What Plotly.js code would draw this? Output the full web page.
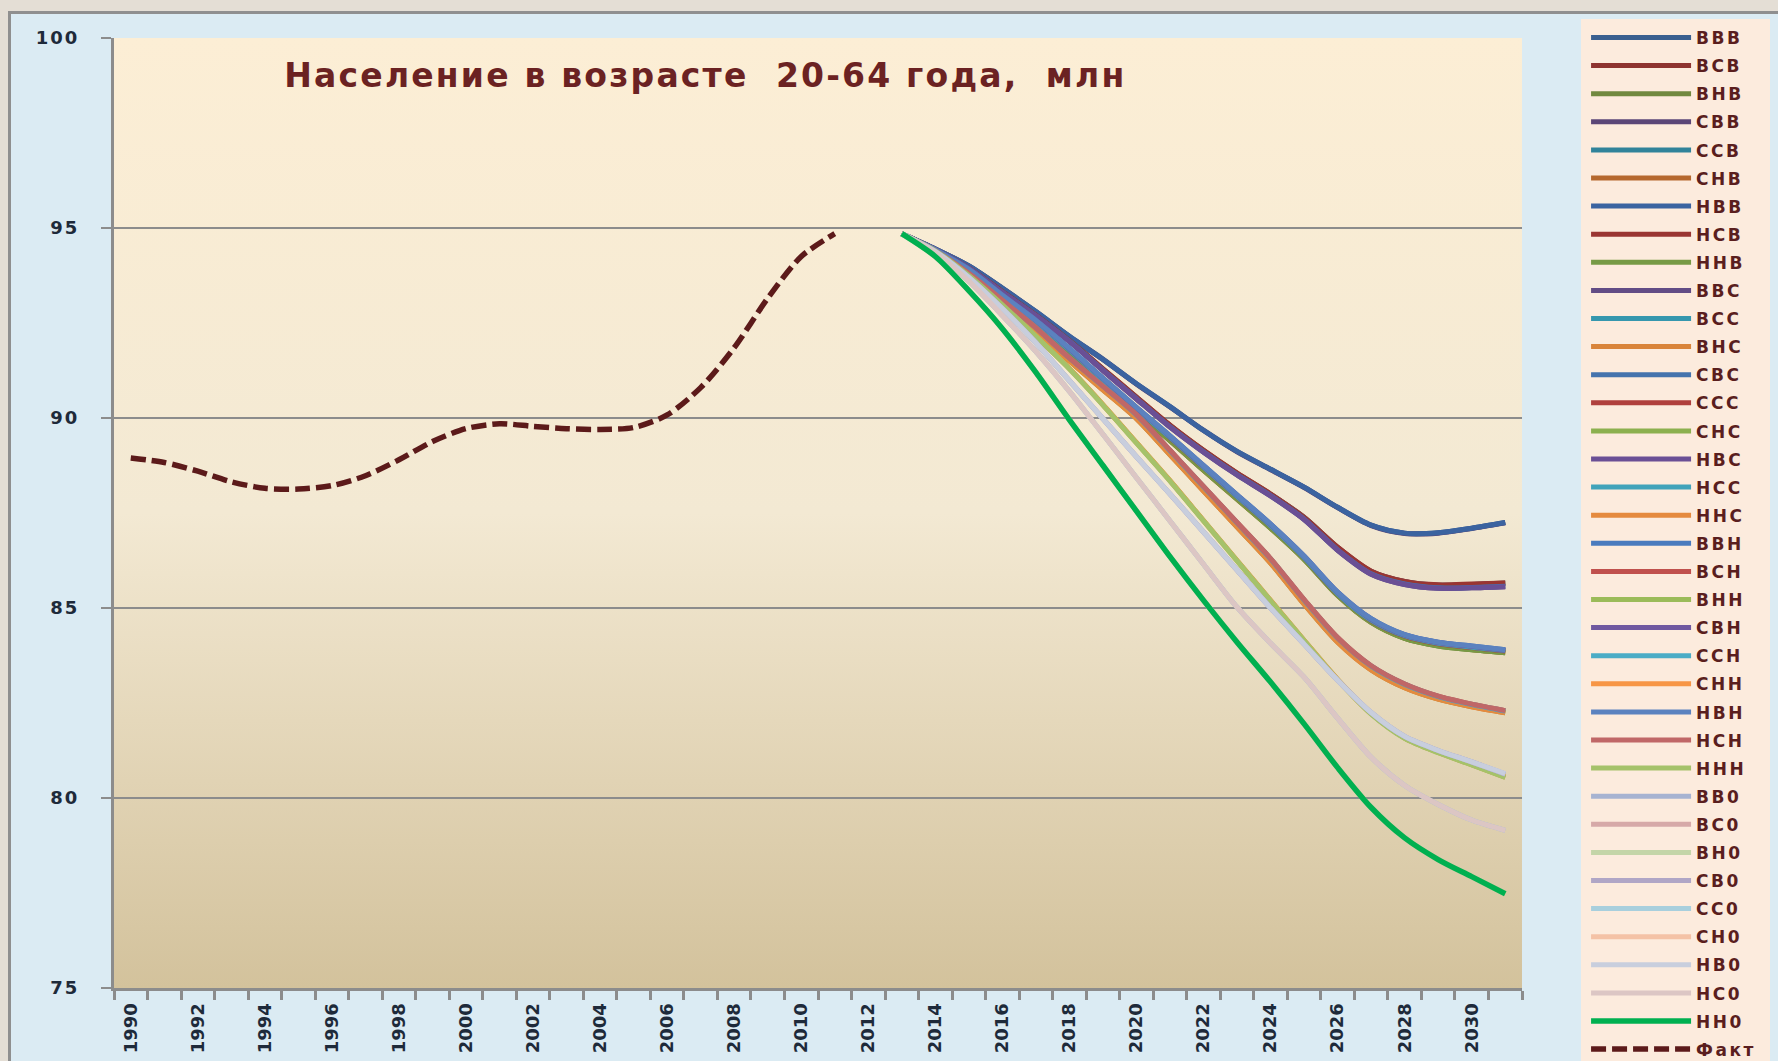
<!DOCTYPE html>
<html><head><meta charset="utf-8">
<script src="https://cdn.plot.ly/plotly-3.0.1.min.js"></script>
<style>
html,body{margin:0;padding:0;background:#E4DED5;width:1778px;height:1061px;overflow:hidden}
#frame{position:absolute;left:8px;top:11px;width:1775px;height:1055px;background:#DBEBF3;border-left:3px solid #8F8F8F;border-top:3px solid #8F8F8F}
#legbg{position:absolute;left:1581px;top:19px;width:189px;height:1050px;background:#FCEBDD}
#chart{position:absolute;left:0;top:0;width:1778px;height:1061px}
#chart .legendtext{letter-spacing:2.5px}
#chart .legend .scrollbox{clip-path:none !important}
#chart .gtitle{letter-spacing:2.2px}
#chart .ytick text{letter-spacing:2px}
</style></head><body>
<div id="frame"></div><div id="legbg"></div><div id="chart"></div>
<script>
// ---- data ----
const factYears = [1990,1991,1992,1993,1994,1995,1996,1997,1998,1999,2000,2001,2002,2003,2004,2005,2006,2007,2008,2009,2010,2011];
const fact = [88.95,88.83,88.6,88.32,88.15,88.13,88.22,88.48,88.9,89.38,89.72,89.85,89.78,89.72,89.7,89.75,90.08,90.8,91.85,93.15,94.25,94.85];
const forecastYears = [2013,2014,2015,2016,2017,2018,2019,2020,2021,2022,2023,2024,2025,2026,2027,2028,2029,2030,2031];
const tickYears = [1990,1992,1994,1996,1998,2000,2002,2004,2006,2008,2010,2012,2014,2016,2018,2020,2022,2024,2026,2028,2030];
const yTicks = [75,80,85,90,95,100];

const s_BBB = [94.85,94.45,94.0,93.42,92.8,92.15,91.55,90.9,90.3,89.68,89.12,88.65,88.18,87.65,87.18,86.97,86.98,87.1,87.25];
const s_BCB = [94.85,94.43,93.95,93.33,92.71,92.04,91.29,90.55,89.81,89.15,88.55,88.0,87.39,86.6,85.97,85.7,85.6,85.62,85.66];
const s_BHB = [94.85,94.41,93.87,93.17,92.48,91.72,90.93,90.15,89.4,88.62,87.86,87.1,86.28,85.33,84.62,84.2,84.0,83.9,83.82];
const s_CBB = [94.85,94.45,94.0,93.41,92.79,92.14,91.54,90.89,90.29,89.67,89.11,88.64,88.17,87.64,87.17,86.96,86.97,87.09,87.24];
const s_CCB = [94.85,94.43,93.95,93.33,92.71,92.04,91.28,90.54,89.8,89.14,88.54,87.99,87.38,86.59,85.96,85.69,85.6,85.62,85.65];
const s_CHB = [94.85,94.41,93.87,93.17,92.48,91.72,90.94,90.16,89.41,88.63,87.87,87.11,86.29,85.34,84.63,84.21,84.01,83.91,83.83];
const s_HBB = [94.85,94.45,94.0,93.41,92.8,92.15,91.54,90.9,90.3,89.67,89.12,88.65,88.18,87.65,87.18,86.97,86.98,87.1,87.25];
const s_HCB = [94.85,94.43,93.95,93.33,92.71,92.04,91.29,90.55,89.81,89.15,88.55,88.0,87.38,86.6,85.97,85.7,85.61,85.63,85.66];
const s_HHB = [94.85,94.41,93.88,93.18,92.49,91.73,90.94,90.16,89.41,88.63,87.87,87.1,86.28,85.33,84.62,84.2,84.0,83.9,83.82];
const s_BBC = [94.85,94.43,93.94,93.31,92.69,92.02,91.25,90.5,89.76,89.1,88.5,87.95,87.33,86.52,85.89,85.62,85.52,85.53,85.56];
const s_BCC = [94.85,94.42,93.9,93.21,92.54,91.79,91.01,90.24,89.49,88.71,87.94,87.17,86.33,85.38,84.68,84.27,84.07,83.97,83.88];
const s_BHC = [94.85,94.39,93.78,93.05,92.31,91.5,90.74,89.98,89.03,88.08,87.13,86.18,85.1,84.1,83.37,82.9,82.6,82.4,82.24];
const s_CBC = [94.85,94.43,93.94,93.31,92.69,92.02,91.26,90.51,89.77,89.11,88.51,87.96,87.34,86.53,85.9,85.63,85.53,85.54,85.57];
const s_CCC = [94.85,94.42,93.9,93.21,92.54,91.79,91.0,90.23,89.48,88.7,87.93,87.16,86.32,85.37,84.67,84.26,84.06,83.96,83.87];
const s_CHC = [94.85,94.39,93.78,93.05,92.31,91.5,90.75,89.99,89.04,88.09,87.14,86.19,85.11,84.11,83.38,82.91,82.61,82.41,82.25];
const s_HBC = [94.85,94.43,93.94,93.31,92.69,92.01,91.25,90.5,89.76,89.1,88.5,87.95,87.33,86.52,85.89,85.62,85.52,85.53,85.56];
const s_HCC = [94.85,94.42,93.9,93.21,92.54,91.79,91.01,90.24,89.49,88.71,87.94,87.17,86.33,85.38,84.68,84.27,84.07,83.97,83.88];
const s_HHC = [94.85,94.39,93.78,93.05,92.31,91.5,90.74,89.98,89.03,88.08,87.13,86.18,85.1,84.1,83.37,82.9,82.6,82.4,82.24];
const s_BBH = [94.85,94.42,93.91,93.23,92.57,91.83,91.05,90.28,89.53,88.75,87.98,87.21,86.37,85.42,84.72,84.3,84.1,84.0,83.9];
const s_BCH = [94.85,94.4,93.81,93.1,92.38,91.58,90.84,90.09,89.15,88.2,87.25,86.3,85.22,84.22,83.48,83.0,82.68,82.47,82.3];
const s_BHH = [94.85,94.4,93.75,92.98,92.15,91.3,90.35,89.35,88.35,87.3,86.25,85.2,84.15,83.12,82.22,81.58,81.2,80.88,80.55];
const s_CBH = [94.85,94.42,93.91,93.23,92.57,91.82,91.04,90.27,89.52,88.74,87.97,87.2,86.36,85.41,84.71,84.29,84.09,83.99,83.89];
const s_CCH = [94.85,94.4,93.81,93.1,92.38,91.58,90.84,90.08,89.14,88.19,87.24,86.29,85.21,84.21,83.47,82.99,82.67,82.46,82.29];
const s_CHH = [94.85,94.4,93.75,92.98,92.15,91.3,90.35,89.35,88.35,87.3,86.25,85.2,84.15,83.12,82.22,81.58,81.2,80.88,80.55];
const s_HBH = [94.85,94.42,93.91,93.23,92.57,91.83,91.05,90.28,89.53,88.75,87.98,87.21,86.37,85.42,84.72,84.3,84.1,84.0,83.9];
const s_HCH = [94.85,94.4,93.81,93.1,92.38,91.58,90.84,90.09,89.15,88.2,87.25,86.3,85.22,84.22,83.48,83.0,82.68,82.47,82.3];
const s_HHH = [94.85,94.4,93.75,92.98,92.15,91.29,90.34,89.34,88.34,87.29,86.24,85.19,84.14,83.11,82.21,81.57,81.19,80.87,80.54];
const s_BB0 = [94.85,94.38,93.7,92.88,91.98,90.98,89.98,88.98,88.0,87.0,86.0,85.0,84.05,83.1,82.25,81.62,81.25,80.95,80.63];
const s_BC0 = [94.85,94.35,93.6,92.7,91.75,90.7,89.57,88.43,87.29,86.15,85.02,84.07,83.18,82.1,81.07,80.33,79.83,79.42,79.15];
const s_BH0 = [94.85,94.25,93.35,92.35,91.2,89.95,88.75,87.55,86.35,85.2,84.1,83.05,81.95,80.8,79.75,78.95,78.38,77.93,77.48];
const s_CB0 = [94.85,94.38,93.7,92.88,91.98,90.98,89.98,88.98,88.0,87.0,86.0,85.0,84.05,83.1,82.25,81.62,81.25,80.95,80.63];
const s_CC0 = [94.85,94.35,93.6,92.7,91.75,90.7,89.57,88.43,87.29,86.15,85.02,84.07,83.18,82.1,81.07,80.33,79.83,79.42,79.15];
const s_CH0 = [94.85,94.25,93.35,92.35,91.2,89.95,88.75,87.55,86.35,85.2,84.1,83.05,81.95,80.8,79.75,78.95,78.38,77.93,77.48];
const s_HB0 = [94.85,94.38,93.7,92.88,91.98,90.98,89.98,88.98,88.0,87.0,86.0,85.0,84.05,83.1,82.25,81.62,81.25,80.95,80.64];
const s_HC0 = [94.85,94.35,93.6,92.7,91.75,90.7,89.57,88.43,87.29,86.15,85.02,84.07,83.18,82.1,81.07,80.33,79.83,79.42,79.15];
const s_HH0 = [94.85,94.25,93.35,92.35,91.2,89.95,88.75,87.55,86.35,85.2,84.1,83.05,81.95,80.8,79.75,78.95,78.38,77.93,77.48];

const seriesNames = ['ВВВ','ВСВ','ВНВ','СВВ','ССВ','СНВ','НВВ','НСВ','ННВ',
  'ВВС','ВСС','ВНС','СВС','ССС','СНС','НВС','НСС','ННС',
  'ВВН','ВСН','ВНН','СВН','ССН','СНН','НВН','НСН','ННН',
  'ВВ0','ВС0','ВН0','СВ0','СС0','СН0','НВ0','НС0','НН0'];
const seriesValues = [s_BBB,s_BCB,s_BHB,s_CBB,s_CCB,s_CHB,s_HBB,s_HCB,s_HHB,
  s_BBC,s_BCC,s_BHC,s_CBC,s_CCC,s_CHC,s_HBC,s_HCC,s_HHC,
  s_BBH,s_BCH,s_BHH,s_CBH,s_CCH,s_CHH,s_HBH,s_HCH,s_HHH,
  s_BB0,s_BC0,s_BH0,s_CB0,s_CC0,s_CH0,s_HB0,s_HC0,s_HH0];
const seriesColors = ['#3A5F8F','#8E3330','#71893F','#5B4677','#31839A','#B5682E','#3B63A0','#9A3532','#779A45',
  '#624C85','#3597AE','#D9843A','#4573AD','#B0403D','#8CB04F','#6A4F95','#41A3BA','#E58A3E',
  '#4A7BBE','#C0504D','#9BBB59','#7058A0','#4BACC6','#F79646','#5B82BF','#C06767','#A5C26A',
  '#A7B3D1','#D6A9A8','#C4D5A8','#B0A6C6','#A8CFDD','#F4C2A6','#C8CEDD','#DCC6C4','#00B050'];
const factName = 'Факт';
const titleText = 'Население в возрасте\u00a0 20-64 года,\u00a0 млн';

// ---- traces ----
const traces = seriesNames.map((n, i) => ({
  type: 'scatter', mode: 'lines', name: n, legendgroup: n,
  x: forecastYears, y: seriesValues[i],
  line: {color: seriesColors[i], width: n === 'НН0' ? 5.5 : 5, shape: 'spline', smoothing: 0.8},
  hoverinfo: 'skip'
}));
traces.push({
  type: 'scatter', mode: 'lines', name: factName, legendgroup: factName,
  x: factYears, y: fact,
  line: {color: '#5C1A1A', width: 5.5, dash: '15px,6px', shape: 'spline', smoothing: 0.8},
  hoverinfo: 'skip'
});

const gradSvg = '<svg xmlns="http://www.w3.org/2000/svg" width="10" height="100" viewBox="0 0 10 100" preserveAspectRatio="none">' +
  '<defs><linearGradient id="g" x1="0" y1="0" x2="0" y2="1">' +
  '<stop offset="0" stop-color="#FCEED5"/><stop offset="0.5" stop-color="#F3E9D3"/><stop offset="1" stop-color="#D3C29C"/>' +
  '</linearGradient></defs><rect width="10" height="100" fill="url(#g)"/></svg>';

const tickFont = {family: 'DejaVu Sans', size: 18, color: '#1E2A3A', weight: 'bold'};
const layout = {
  width: 1778, height: 1061,
  paper_bgcolor: 'rgba(0,0,0,0)', plot_bgcolor: 'rgba(0,0,0,0)',
  margin: {l: 114, r: 256, t: 38, b: 73, autoexpand: false},
  title: {text: titleText, font: {family: 'DejaVu Sans', size: 33, color: '#6B2222', weight: 'bold'},
          x: 0.42, xref: 'paper', xanchor: 'center', y: 0.929, yref: 'container', yanchor: 'middle'},
  images: [{source: 'data:image/svg+xml;charset=utf-8,' + encodeURIComponent(gradSvg),
            xref: 'paper', yref: 'paper', x: 0, y: 1, sizex: 1, sizey: 1,
            xanchor: 'left', yanchor: 'top', sizing: 'stretch', layer: 'below'}],
  xaxis: {range: [1989.5, 2031.5], tickmode: 'array', tickvals: tickYears, ticktext: tickYears.map(String),
          tickangle: -90, ticks: '', showgrid: false, zeroline: false,
          showline: true, linecolor: '#8C8C8C', linewidth: 3,
          minor: {ticks: 'outside', tickmode: 'linear', tick0: 1989.5, dtick: 1, ticklen: 9, tickwidth: 3, tickcolor: '#8C8C8C', showgrid: false},
          tickfont: tickFont, ticklabelstandoff: 5},
  yaxis: {range: [75, 100], tickmode: 'array', tickvals: yTicks, ticks: 'outside', ticklen: 10, tickwidth: 2,
          tickcolor: '#8C8C8C', showgrid: true, gridcolor: '#8C8C8C', gridwidth: 2.5,
          showline: true, linecolor: '#8C8C8C', linewidth: 3, zeroline: false,
          tickfont: tickFont, ticklabelstandoff: 18},
  showlegend: true,
  legend: {x: 1.0455, xanchor: 'left', y: 1.019, yanchor: 'top', bgcolor: 'rgba(0,0,0,0)', borderwidth: 0,
           font: {family: 'DejaVu Sans', size: 17, color: '#5A1E1E', weight: 'bold'},
           itemwidth: 100, tracegroupgap: 3, traceorder: 'grouped', maxheight: 1100,
           itemclick: false, itemdoubleclick: false}
};

Plotly.newPlot('chart', traces, layout, {staticPlot: true, displayModeBar: false});
</script>
</body></html>
